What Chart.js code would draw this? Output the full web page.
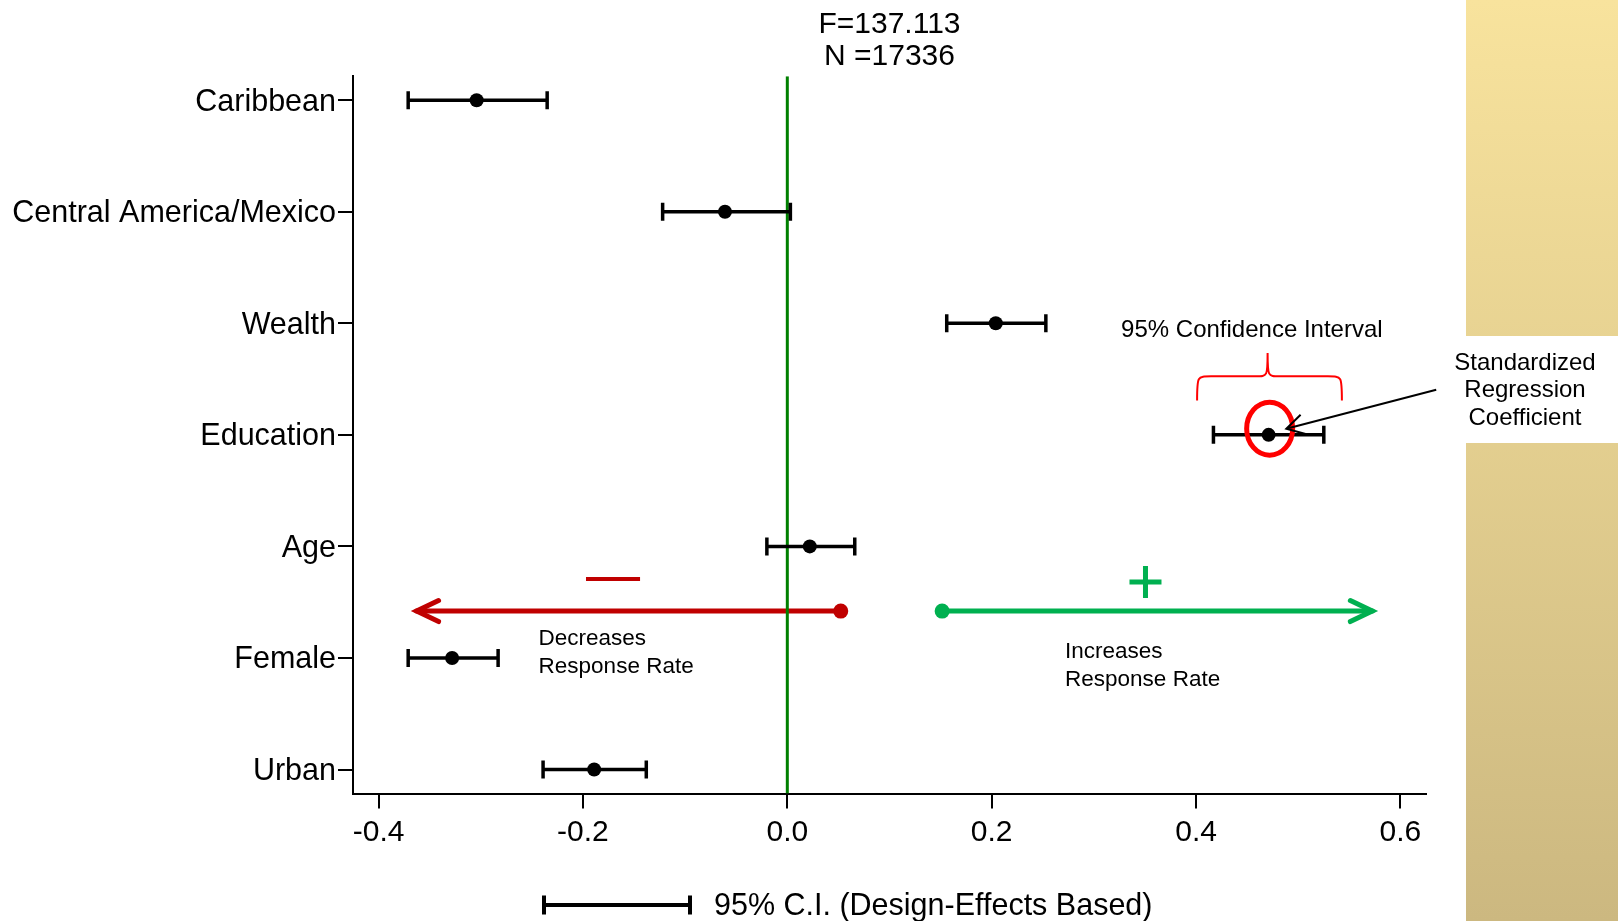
<!DOCTYPE html>
<html lang="en">
<head>
<meta charset="UTF-8">
<title>Response rate coefficients</title>
<script src="https://cdn.jsdelivr.net/npm/chart.js"></script>
<style>
  body { margin: 0; background: #fff; font-family: Arial, "Liberation Sans", sans-serif; }
  .page { position: relative; width: 1618px; height: 921px; overflow: hidden; }
  #chart { position: absolute; left: 0; top: 0; }
  .side { position: absolute; left: 1466px; top: 0; width: 152px; height: 921px;
          background: linear-gradient(to bottom, #f8e39d, #ccb880); }
  .side .box { position: absolute; left: 0; top: 336px; width: 152px; height: 107px; background: #fff; }
  .coefNote { position: absolute; left: 1440px; top: 348px; width: 170px; text-align: center;
              font-size: 24px; line-height: 27.3px; color: #000; }
</style>
</head>
<body>
<div class="page">
  <canvas id="chart" width="1466" height="921"></canvas>
  <div class="side"><div class="box"></div></div>
  <div class="coefNote">Standardized<br>Regression<br>Coefficient</div>
</div>

<script>
// data
const categories = ['Caribbean', 'Central America/Mexico', 'Wealth', 'Education', 'Age', 'Female', 'Urban'];
const coef   = [-0.304, -0.061, 0.204, 0.471, 0.022, -0.328, -0.189];
const ciLow  = [-0.371, -0.122, 0.156, 0.417, -0.020, -0.371, -0.239];
const ciHigh = [-0.235, 0.003, 0.253, 0.525, 0.066, -0.283, -0.138];
const xTicks = [-0.4, -0.2, 0.0, 0.2, 0.4, 0.6];
const titleLines = ['F=137.113', 'N =17336'];
const refLine = 0;

const FONT = 'Arial, "Liberation Sans", sans-serif';
const RED = '#c00000', GREEN = '#00b050', BRIGHT = '#ff0000';
const yMin = -0.215, yMax = 6.215;

Chart.defaults.font.family = FONT;
Chart.defaults.color = '#000';

function pt(chart, x, y) {
    return [chart.scales.x.getPixelForValue(x), chart.scales.y.getPixelForValue(y)];
}

// line with a dot at the start and an open chevron at the end
function dotArrow(ctx, from, to, color) {
    const ang = Math.atan2(to[1] - from[1], to[0] - from[0]);
    ctx.strokeStyle = color;
    ctx.fillStyle = color;
    ctx.lineWidth = 5;
    ctx.lineCap = 'round';
    ctx.beginPath();
    ctx.moveTo(from[0], from[1]);
    ctx.lineTo(to[0], to[1]);
    ctx.stroke();
    ctx.beginPath();
    ctx.moveTo(to[0] - 22 * Math.cos(ang) + 10.5 * Math.sin(ang), to[1] - 22 * Math.sin(ang) - 10.5 * Math.cos(ang));
    ctx.lineTo(to[0], to[1]);
    ctx.lineTo(to[0] - 22 * Math.cos(ang) - 10.5 * Math.sin(ang), to[1] - 22 * Math.sin(ang) + 10.5 * Math.cos(ang));
    ctx.stroke();
    ctx.beginPath();
    ctx.arc(from[0], from[1], 7.5, 0, Math.PI * 2);
    ctx.fill();
}

const underlay = {
    id: 'underlay',
    beforeDatasetsDraw(chart) {
        const ctx = chart.ctx;
        ctx.save();
        dotArrow(ctx, pt(chart, 0.0523, 4.58), pt(chart, -0.3628, 4.58), RED);
        dotArrow(ctx, pt(chart, 0.1515, 4.58), pt(chart, 0.5725, 4.58), GREEN);

        // minus sign
        ctx.lineCap = 'butt';
        ctx.strokeStyle = RED;
        ctx.lineWidth = 4;
        let a = pt(chart, -0.197, 4.293), b = pt(chart, -0.1441, 4.293);
        ctx.beginPath(); ctx.moveTo(a[0], a[1]); ctx.lineTo(b[0], b[1]); ctx.stroke();

        // plus sign
        const c = pt(chart, 0.3505, 4.32);
        ctx.strokeStyle = GREEN;
        ctx.lineWidth = 5;
        ctx.beginPath();
        ctx.moveTo(c[0] - 16, c[1]); ctx.lineTo(c[0] + 16, c[1]);
        ctx.moveTo(c[0], c[1] - 16); ctx.lineTo(c[0], c[1] + 16);
        ctx.stroke();

        ctx.fillStyle = '#000';
        ctx.font = '22.5px ' + FONT;
        ctx.textAlign = 'left';
        ctx.textBaseline = 'middle';
        let p = pt(chart, -0.2434, 4.83); ctx.fillText('Decreases', p[0], p[1]);
        p = pt(chart, -0.2434, 5.083); ctx.fillText('Response Rate', p[0], p[1]);
        p = pt(chart, 0.2718, 4.945); ctx.fillText('Increases', p[0], p[1]);
        p = pt(chart, 0.2718, 5.196); ctx.fillText('Response Rate', p[0], p[1]);
        ctx.restore();
    },
    afterDatasetsDraw(chart) {
        const ctx = chart.ctx;
        ctx.save();
        // circle round the Education point
        const e = pt(chart, 0.472, 2.945);
        ctx.strokeStyle = BRIGHT;
        ctx.lineWidth = 5;
        ctx.beginPath();
        ctx.ellipse(e[0], e[1], 23, 26.5, 0, 0, Math.PI * 2);
        ctx.stroke();

        // brace over the interval
        const L = pt(chart, 0.401, 2.691), R = pt(chart, 0.5427, 2.691);
        const M = pt(chart, 0.470, 2.266), H = pt(chart, 0.470, 2.475);
        ctx.lineWidth = 2;
        ctx.beginPath();
        ctx.moveTo(L[0], L[1]);
        ctx.bezierCurveTo(L[0], H[1], L[0], H[1], L[0] + 14, H[1]);
        ctx.lineTo(M[0] - 12, H[1]);
        ctx.bezierCurveTo(M[0], H[1], M[0], H[1], M[0], M[1]);
        ctx.bezierCurveTo(M[0], H[1], M[0], H[1], M[0] + 12, H[1]);
        ctx.lineTo(R[0] - 14, H[1]);
        ctx.bezierCurveTo(R[0], H[1], R[0], H[1], R[0], R[1]);
        ctx.stroke();

        // pointer to the coefficient
        const s = pt(chart, 0.635, 2.595), t = pt(chart, 0.4883, 2.945);
        const ang = Math.atan2(s[1] - t[1], s[0] - t[0]);
        ctx.strokeStyle = '#000';
        ctx.lineWidth = 2;
        ctx.beginPath();
        ctx.moveTo(s[0], s[1]); ctx.lineTo(t[0], t[1]);
        ctx.moveTo(t[0] + 20 * Math.cos(ang - 0.52), t[1] + 20 * Math.sin(ang - 0.52));
        ctx.lineTo(t[0], t[1]);
        ctx.lineTo(t[0] + 20 * Math.cos(ang + 0.52), t[1] + 20 * Math.sin(ang + 0.52));
        ctx.stroke();

        ctx.fillStyle = '#000';
        ctx.font = '24px ' + FONT;
        ctx.textAlign = 'center';
        ctx.textBaseline = 'middle';
        const q = pt(chart, 0.4546, 2.066);
        ctx.fillText('95% Confidence Interval', q[0], q[1]);
        ctx.restore();
    },
    afterDraw(chart) {
        // key for the interval bars
        const ctx = chart.ctx;
        ctx.save();
        ctx.strokeStyle = '#000';
        ctx.lineWidth = 4;
        ctx.beginPath();
        ctx.moveTo(544, 905); ctx.lineTo(690, 905);
        ctx.moveTo(544, 895.5); ctx.lineTo(544, 914.5);
        ctx.moveTo(690, 895.5); ctx.lineTo(690, 914.5);
        ctx.stroke();
        ctx.fillStyle = '#000';
        ctx.font = '30.5px ' + FONT;
        ctx.textAlign = 'left';
        ctx.textBaseline = 'middle';
        ctx.fillText('95% C.I. (Design-Effects Based)', 714, 907);
        ctx.restore();
    }
};

const datasets = [];
datasets.push({
    data: coef.map((v, i) => ({ x: v, y: i })),
    pointStyle: 'circle',
    pointRadius: 7,
    pointBackgroundColor: '#000',
    pointBorderWidth: 0,
    showLine: false,
    order: 0
});
categories.forEach((c, i) => {
    datasets.push({
        data: [{ x: ciLow[i], y: i }, { x: ciHigh[i], y: i }],
        showLine: true,
        borderColor: '#000',
        borderWidth: 3.5,
        pointStyle: 'line',
        pointRotation: 90,
        pointRadius: 9,
        pointBorderWidth: 3.5,
        pointBorderColor: '#000',
        order: 1
    });
});
datasets.push({
    data: [{ x: refLine, y: yMin }, { x: refLine, y: yMax }],
    showLine: true,
    borderColor: '#008000',
    borderWidth: 3,
    pointRadius: 0,
    order: 2
});

new Chart(document.getElementById('chart').getContext('2d'), {
    type: 'scatter',
    data: { datasets: datasets },
    options: {
        responsive: false,
        animation: false,
        events: [],
        layout: { padding: { left: 0, right: 40, top: 0, bottom: 0 } },
        plugins: {
            legend: { display: false },
            tooltip: { enabled: false },
            title: {
                display: true,
                text: titleLines,
                fullSize: false,
                color: '#000',
                font: { size: 30, weight: 'normal', lineHeight: 1.07 },
                padding: { top: 9, bottom: 3 }
            }
        },
        scales: {
            x: {
                type: 'linear',
                min: -0.425,
                max: 0.625,
                afterBuildTicks: (scale) => { scale.ticks = xTicks.map(v => ({ value: v })); },
                afterFit: (scale) => { scale.height = 127.5; },
                ticks: {
                    callback: (v) => Number(v).toFixed(1),
                    font: { size: 30 },
                    color: '#000',
                    padding: 6.5,
                    maxRotation: 0,
                    autoSkip: false
                },
                grid: { display: true, drawOnChartArea: false, drawTicks: true, tickLength: 15, color: '#000', lineWidth: 2 },
                border: { display: true, color: '#000', width: 2 }
            },
            y: {
                type: 'linear',
                reverse: true,
                min: yMin,
                max: yMax,
                afterBuildTicks: (scale) => { scale.ticks = categories.map((c, i) => ({ value: i })); },
                afterFit: (scale) => { scale.width = 353; },
                ticks: {
                    callback: (v) => categories[v],
                    font: { size: 30.5 },
                    color: '#000',
                    padding: 2,
                    labelOffset: 2,
                    autoSkip: false
                },
                grid: { display: true, drawOnChartArea: false, drawTicks: true, tickLength: 15, color: '#000', lineWidth: 2 },
                border: { display: true, color: '#000', width: 2 }
            }
        }
    },
    plugins: [underlay]
});
</script>
</body>
</html>
